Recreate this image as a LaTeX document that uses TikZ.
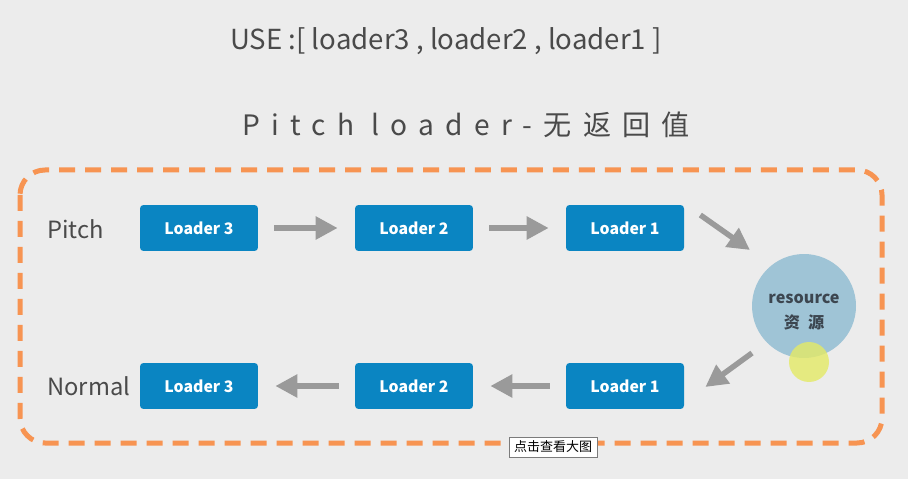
\documentclass[tikz,border=0pt]{standalone}
\usepackage{fontspec}
\setmainfont{Noto Sans CJK SC}
\newfontfamily\spacedfont[LetterSpace=40]{Noto Sans CJK SC}
\usetikzlibrary{arrows.meta, positioning, calc}
\definecolor{cbg}{HTML}{ECECEC}
\definecolor{cblue}{HTML}{0A85C2}
\definecolor{cgrey}{HTML}{9A9A9A}
\definecolor{ctext}{HTML}{4A4A4A}
\definecolor{corange}{HTML}{F79452}
\definecolor{cres}{HTML}{9FC4D6}
\definecolor{crestext}{HTML}{3C4650}
\definecolor{cyellow}{HTML}{E4EA66}
\tikzset{
  loader/.style={fill=cblue, text=white, rounded corners=2pt, inner sep=0pt, minimum width=2.36cm, minimum height=0.92cm, font=\bfseries\fontsize{9}{11}\selectfont},
  arrow/.style={-{Triangle[length=0.44cm, width=0.44cm]}, draw=cgrey, line width=0.11cm, shorten <=0.32cm, shorten >=0.34cm},
  rowlabel/.style={anchor=west, inner sep=0pt, text=ctext, font=\fontsize{13.5}{16}\selectfont},
  frame/.style={draw=corange, line width=0.1cm, dash pattern=on 0.32cm off 0.2cm, rounded corners=0.5cm},
}

\begin{document}
\begin{tikzpicture}[x=0.02cm, y=-0.02cm]
  \fill[cbg] (0,0) rectangle (908,479);
  \useasboundingbox (0,0) rectangle (908,479);
  \node[text=ctext, font=\fontsize{15.7}{19}\selectfont] (use) at (446,41) {USE :[ loader3 , loader2 , loader1 ]};
  \node[text=ctext, font=\spacedfont\fontsize{16}{19}\selectfont] (head) at (466,125) {Pitch loader-无返回值};
  \draw[frame] (20,170) rectangle (882,443);
  \node[rowlabel] (pitch) at (47,229) {Pitch};
  \node[rowlabel] (normal) at (47,386) {Normal};
  \foreach \i/\x in {3/199, 2/414, 1/625} {
    \node[loader] (p\i) at (\x,228) {Loader \i};
    \node[loader] (n\i) at (\x,386) {Loader \i};
  }
  \node[circle, fill=cres, minimum size=2.08cm, inner sep=0pt] (res) at (804,306) {};
  \node[align=center, text=crestext, font=\bfseries\fontsize{9.2}{14}\selectfont] (restext) at ($(res.center)+(0,6)$) {resource\\资\hspace{0.5em}源};
  \draw[arrow] (p3) -- (p2);
  \draw[arrow] (p2) -- (p1);
  \draw[arrow, shorten <=0pt, shorten >=0pt] ($(p1.east)+(16,-13)$) -- ($(res.center)+(-54,-56)$);
  \draw[arrow, shorten <=0pt, shorten >=0pt] ($(res.center)+(-52,47)$) -- ($(n1.east)+(21,1)$);
  \draw[arrow] (n1) -- (n2);
  \draw[arrow] (n2) -- (n3);
  \node[circle, fill=cyellow, fill opacity=0.8, minimum size=0.8cm, inner sep=0pt] (cursor) at (809,362) {};
  \node[draw=cgrey!80!black, fill=white, inner sep=1pt, minimum width=1.76cm, minimum height=0.4cm, font=\fontsize{7.4}{9}\selectfont] (tip) at (553,447) {点击查看大图};
\end{tikzpicture}
\end{document}
